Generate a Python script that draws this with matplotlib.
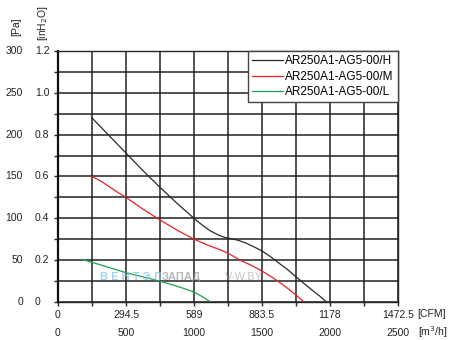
import matplotlib.pyplot as plt
from matplotlib.transforms import blended_transform_factory

plt.rcParams['font.family'] = ['Liberation Sans', 'DejaVu Sans']

# fan curves: airflow [m3/h] vs static pressure [Pa]
flow_h = [250, 375, 500, 625, 750, 875, 1000, 1060, 1120, 1180, 1230, 1280, 1330, 1380, 1440, 1500, 1560, 1620, 1690, 1750, 1810, 1870, 1925, 1975]
pres_h = [220, 199, 178, 157, 137, 118, 100, 92, 85, 80, 77, 75.5, 73.5, 70.5, 66, 61, 54.5, 47, 38.5, 30, 22, 14, 7, 0]

flow_m = [250, 310, 375, 440, 500, 625, 750, 875, 1000, 1100, 1200, 1270, 1338, 1420, 1500, 1580, 1650, 1730, 1810]
pres_m = [150, 145, 138, 131, 125, 111, 98, 86, 75, 68, 62, 56.5, 50, 44, 37, 29, 21, 11, 0]

flow_l = [174, 300, 400, 500, 627, 750, 830, 900, 1000, 1060, 1123]
pres_l = [51, 45, 40, 35, 30, 25, 21, 17.5, 12, 6.5, 0]

labels = ['AR250A1-AG5-00/H', 'AR250A1-AG5-00/M', 'AR250A1-AG5-00/L']
colors = ['#2a2a2a', '#e8202a', '#1fa050']

pa_ticks = [0, 50, 100, 150, 200, 250, 300]
inh2o_labels = ['0', '0.2', '0.4', '0.6', '0.8', '1.0', '1.2']
m3h_ticks = [0, 500, 1000, 1500, 2000, 2500]
cfm_labels = ['0', '294.5', '589', '883.5', '1178', '1472.5']

fig = plt.figure(figsize=(4.55, 3.4), dpi=100)
ax = fig.add_axes([58 / 455, 38 / 340, 340 / 455, 251 / 340])

ax.plot(flow_h, pres_h, color=colors[0], lw=0.9, label=labels[0])
ax.plot(flow_m, pres_m, color=colors[1], lw=0.9, label=labels[1])
ax.plot(flow_l, pres_l, color=colors[2], lw=0.9, label=labels[2])

ax.set_xlim(0, 2500)
ax.set_ylim(0, 300)
ax.set_xticks(range(0, 2501, 250))
ax.set_yticks(range(0, 301, 25))
ax.grid(True, color='#222222', lw=1.1)
ax.set_axisbelow(True)
ax.tick_params(length=3, width=1.0, color='#262626', labelbottom=False, labelleft=False)
for s in ax.spines.values():
    s.set_color('#262626')
    s.set_linewidth(1.0)
ax.spines['left'].set_linewidth(1.6)
ax.spines['left'].set_color('#111111')

# tick label columns on the left: Pa and inH2O
ty = blended_transform_factory(fig.transFigure, ax.transData)
for v, lab in zip(pa_ticks, inh2o_labels):
    ax.text(23 / 455, v, str(v), transform=ty, ha='right', va='center', fontsize=7.5, color='#222')
    ax.text(35 / 455, v, lab, transform=ty, ha='left', va='center', fontsize=7.5, color='#222')
fig.text(16 / 455, 1 - 27 / 340, '[Pa]', rotation=90, ha='center', va='center', fontsize=7.5, color='#222')
fig.text(43 / 455, 1 - 23 / 340, '[inH$_2$O]', rotation=90, ha='center', va='center', fontsize=7.5, color='#222')

# tick label rows at the bottom: CFM and m3/h
tx = blended_transform_factory(ax.transData, fig.transFigure)
for v, lab in zip(m3h_ticks, cfm_labels):
    ax.text(v, 1 - 315 / 340, lab, transform=tx, ha='center', va='center', fontsize=7.5, color='#222')
    ax.text(v, 1 - 333 / 340, str(v), transform=tx, ha='center', va='center', fontsize=7.5, color='#222')
fig.text(417 / 455, 1 - 314 / 340, '[CFM]', ha='left', va='center', fontsize=7.5, color='#222')
fig.text(418 / 455, 1 - 332 / 340, '[m$^3$/h]', ha='left', va='center', fontsize=7.5, color='#222')

# site watermark
ax.text(310, 30, 'В Е Н Т Э Л', color='#8ec3e6', fontsize=8, fontweight='bold', alpha=0.8, va='center')
ax.text(765, 30, 'ЗАПАД', color='#9a9a9a', fontsize=8, fontweight='bold', alpha=0.7, va='center')
ax.text(1230, 30, 'V-W.BY', color='#a0a0a0', fontsize=8, alpha=0.6, va='center')

leg = ax.legend(loc='upper right', borderaxespad=0, fancybox=False, framealpha=1,
                edgecolor='#444444', fontsize=8.5, handlelength=2.6, handletextpad=0.2,
                labelspacing=0.3, borderpad=0.35)
leg.get_frame().set_linewidth(1.0)

plt.savefig('out.png')
